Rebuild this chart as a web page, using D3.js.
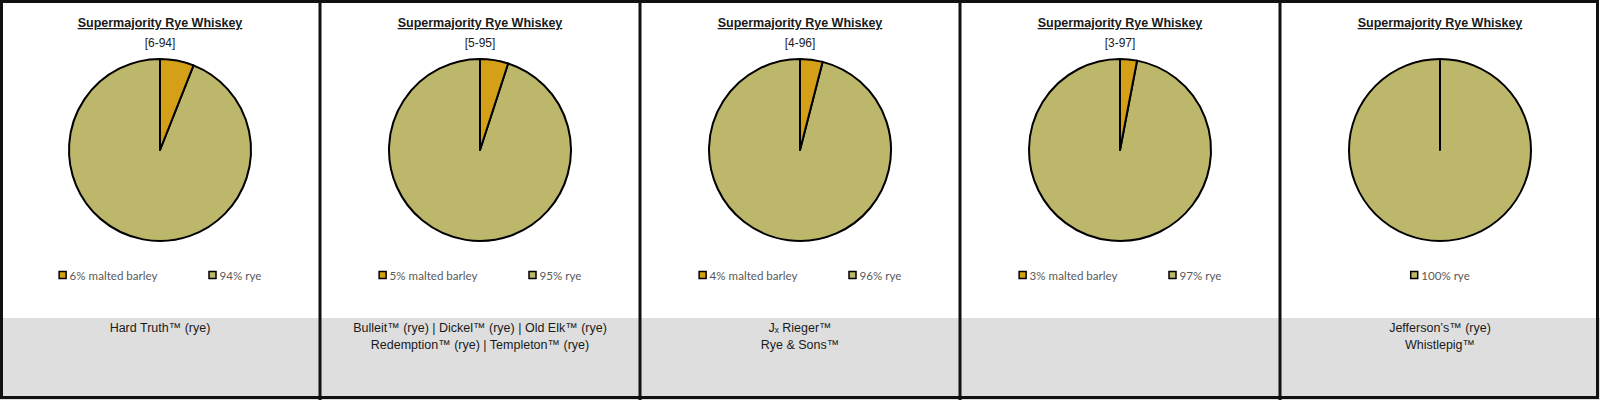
<!DOCTYPE html>
<html>
<head>
<meta charset="utf-8">
<script src="https://cdn.jsdelivr.net/npm/d3@7"></script>
<style>
  body { margin: 0; background: #fff; }
</style>
</head>
<body>
<div id="chart"></div>
<script>
//
// Five rye whiskey mash bill pies, one per panel, with brand lists underneath.
//
var title = 'Supermajority Rye Whiskey';
var ranges = ['[6-94]', '[5-95]', '[4-96]', '[3-97]', ''];
var grains = ['malted barley', 'rye'];
var barley = [6, 5, 4, 3, 0];
var rye = [94, 95, 96, 97, 100];
var brands = [
    ['Hard Truth™ (rye)'],
    ['Bulleit™ (rye) | Dickel™ (rye) | Old Elk™ (rye)', 'Redemption™ (rye) | Templeton™ (rye)'],
    ['Jₓ Rieger™', 'Rye & Sons™'],
    [],
    ['Jefferson’s™ (rye)', 'Whistlepig™']
];

var width = 1600, height = 400;
var options = {
    radius: 91,
    pieY: 150,
    legendY: 276,
    bandTop: 318,
    colorBarley: '#d4a017',
    colorRye: '#bdb76b',
    colorBand: '#dedede'
};

var color = d3.scaleOrdinal().domain(grains).range([options.colorBarley, options.colorRye]);
var panelX = d3.scaleBand().domain(d3.range(barley.length)).range([0, width]);

var svg = d3.select('#chart').append('svg')
    .attr('width', width)
    .attr('height', height);

svg.append('rect').attr('width', width).attr('height', height).attr('fill', '#fff');

var pie = d3.pie().sort(null).value(function(d) { return d.value; });
var arc = d3.arc().innerRadius(0).outerRadius(options.radius);

var panel = svg.selectAll('g.panel')
    .data(barley.map(function(b, i) {
        return {
            range: ranges[i],
            brands: brands[i],
            slices: [{grain: grains[0], value: b}, {grain: grains[1], value: rye[i]}]
        };
    }))
    .enter().append('g')
    .attr('class', 'panel')
    .attr('transform', function(d, i) { return 'translate(' + panelX(i) + ',0)'; });

var cx = panelX.bandwidth() / 2;

// grey brand band at the bottom
panel.append('rect')
    .attr('x', 0)
    .attr('y', options.bandTop)
    .attr('width', panelX.bandwidth())
    .attr('height', height - options.bandTop)
    .attr('fill', options.colorBand);

// title + range
panel.append('text')
    .attr('x', cx)
    .attr('y', 27)
    .attr('text-anchor', 'middle')
    .style('font-family', '"Liberation Sans", Arial, sans-serif')
    .style('font-size', '12.5px')
    .style('font-weight', 'bold')
    .style('text-decoration', 'underline')
    .attr('fill', '#1a1a1a')
    .text(title);

panel.append('text')
    .attr('x', cx)
    .attr('y', 47)
    .attr('text-anchor', 'middle')
    .style('font-family', '"Liberation Sans", Arial, sans-serif')
    .style('font-size', '12px')
    .attr('fill', '#1a1a1a')
    .text(function(d) { return d.range; });

// pies - rye drawn first so a 0% barley edge still shows on top
panel.append('g')
    .attr('transform', 'translate(' + cx + ',' + options.pieY + ')')
    .selectAll('path')
    .data(function(d) { return pie(d.slices).reverse(); })
    .enter().append('path')
    .attr('d', arc)
    .attr('fill', function(d) { return color(d.data.grain); })
    .attr('stroke', '#000')
    .attr('stroke-width', 2)
    .attr('stroke-linejoin', 'round');

// legend, zero slices left out
panel.each(function(d) {
    var g = d3.select(this).append('g');
    var items = d.slices.filter(function(s) { return s.value > 0; });
    var x = 0;
    items.forEach(function(s, k) {
        var item = g.append('g').attr('transform', 'translate(' + x + ',0)');
        item.append('rect')
            .attr('x', 0.5).attr('y', options.legendY - 4.5)
            .attr('width', 7).attr('height', 7)
            .attr('fill', color(s.grain))
            .attr('stroke', '#000')
            .attr('stroke-width', 1.5);
        var t = item.append('text')
            .attr('x', 11)
            .attr('y', options.legendY + 4)
            .style('font-family', 'Lato, "Open Sans", sans-serif')
            .style('font-size', '11.6px')
            .attr('fill', '#595959')
            .text(s.value + '% ' + s.grain);
        x += 11 + t.node().getComputedTextLength() + (k < items.length - 1 ? 51 : 0);
    });
    g.attr('transform', 'translate(' + (cx - x / 2) + ',0)');
});

// brand lines
panel.append('text')
    .attr('text-anchor', 'middle')
    .style('font-family', '"Liberation Sans", Arial, sans-serif')
    .style('font-size', '12.5px')
    .attr('fill', '#1a1a1a')
    .selectAll('tspan')
    .data(function(d) { return d.brands; })
    .enter().append('tspan')
    .attr('x', cx)
    .attr('y', function(d, i) { return 332 + i * 17; })
    .text(function(d) { return d; });

// frame and dividers
svg.selectAll('line.divider')
    .data(d3.range(1, barley.length))
    .enter().append('line')
    .attr('class', 'divider')
    .attr('x1', function(i) { return panelX(i); })
    .attr('x2', function(i) { return panelX(i); })
    .attr('y1', 0)
    .attr('y2', height)
    .attr('stroke', '#111')
    .attr('stroke-width', 3);

svg.append('rect')
    .attr('x', 1.5).attr('y', 1.5)
    .attr('width', width - 4).attr('height', height - 4)
    .attr('fill', 'none')
    .attr('stroke', '#111')
    .attr('stroke-width', 3);
</script>
</body>
</html>
